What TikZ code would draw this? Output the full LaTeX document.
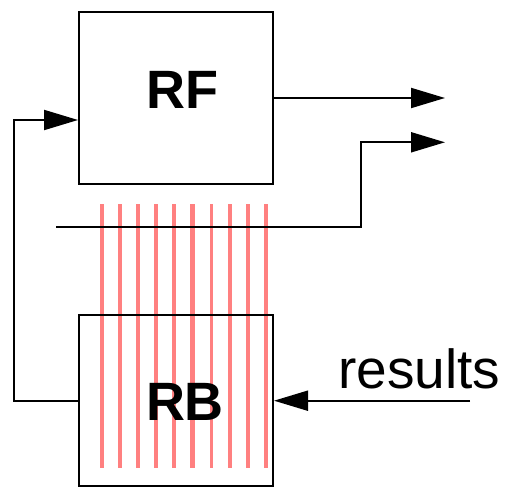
\documentclass[tikz,border=0pt]{standalone}
\usepackage{fontspec}
\setmainfont{Liberation Sans}
\usetikzlibrary{arrows.meta}
\definecolor{lred}{HTML}{FF8080}
\begin{document}
\begin{tikzpicture}[x=1pt,y=-1pt,
  box/.style={draw=black,line width=2pt,minimum width=194pt,minimum height=172pt,inner sep=0pt},
  wire/.style={draw=black,line width=2pt},
  arr/.style={wire,-{Triangle[length=34pt,width=20pt]}},
  redline/.style={draw=lred,line width=3.2pt},
  big/.style={font=\fontsize{54}{60}\selectfont\bfseries}]
\useasboundingbox (0,0) rectangle (506,487);
% red bus lines
\foreach \x in {102,120,138,156,174,211.7,230,248,266}
  \draw[redline] (\x,204) -- (\x,468);
\draw[redline,line width=4.6pt] (192.7,204) -- (192.7,468);
% boxes
\node[box,label={[big,xshift=6.5pt,yshift=8.5pt]center:RF}] (RF) at (176,98) {};
\node[box,minimum height=171pt,label={[big,xshift=9pt,yshift=-1.5pt]center:RB}] (RB) at (176,400.7) {};
% output of RF
\coordinate (o1) at (445,98);
\draw[arr] (RF.east) -- (o1);
% bus line going up to second output
\coordinate (b0) at (56,226.7);
\coordinate (b1) at (361,226.7);
\coordinate (o2) at (445,142.3);
\draw[arr] (b0) -- (b1) |- (o2);
% feedback RB -> RF
\coordinate (fb) at (14,120);
\draw[arr] (RB.west) -| (fb) -- ([yshift=-22pt]RF.west);
% results
\node[anchor=base west,inner sep=0pt,font=\fontsize{55}{60}\selectfont] (res) at (338,388) {results};
\coordinate (r0) at (470,400.7);
\draw[arr] (r0) -- (RB.east);
\end{tikzpicture}
\end{document}
